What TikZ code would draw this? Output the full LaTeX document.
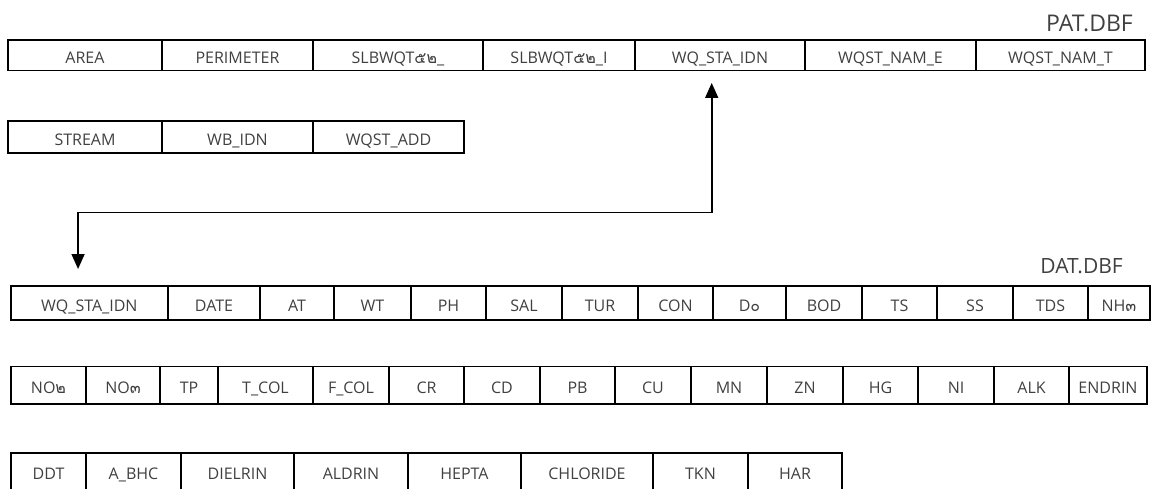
\documentclass[tikz,border=0pt]{standalone}
\usepackage{fontspec}
\setmainfont{Open Sans}
\newfontfamily\thaifont[Script=Thai]{Loma}
\usetikzlibrary{positioning,arrows.meta}
\tikzset{
    field/.style = {draw, line width=1.6pt, rectangle, outer sep=0pt, inner sep=0pt, minimum width=#1, text=black!75, font=\fontsize{16}{18}\selectfont, text height=16.5pt, text depth=0pt},
    table-title/.style = {inner sep=0pt, text=black!75, font=\fontsize{#1}{#1}\selectfont},
    key-link/.style = {line width=1.6pt, {Triangle[width=13pt,length=15pt]}-{Triangle[width=13pt,length=15pt]}},
}

\begin{document}
\begin{tikzpicture}[x=1pt, y=-1pt]
\useasboundingbox (0,0) rectangle (1153,488);

% PAT.DBF
\begin{scope}[nodes={minimum height=30.7pt}]
\node[field=154pt, anchor=west] (pat1) at (8,55.3) {AREA};
\node[field=151pt, right=0pt of pat1] (pat2) {PERIMETER};
\node[field=170pt, right=0pt of pat2] (pat3) {SLBWQT{\thaifont ๕๒}\_};
\node[field=152pt, right=0pt of pat3] (pat4) {SLBWQT{\thaifont ๕๒}\_I};
\node[field=170pt, right=0pt of pat4] (pat5) {WQ\_STA\_IDN};
\node[field=171pt, right=0pt of pat5] (pat6) {WQST\_NAM\_E};
\node[field=169pt, right=0pt of pat6] (pat7) {WQST\_NAM\_T};
\end{scope}
\begin{scope}[nodes={minimum height=32pt}]
\node[field=154pt, anchor=west] (pat8) at (8,137) {STREAM};
\node[field=151pt, right=0pt of pat8] (pat9) {WB\_IDN};
\node[field=151pt, right=0pt of pat9] (pat10) {WQST\_ADD};
\end{scope}
\node[table-title=23, anchor=base east] (pattitle) at ([xshift=-12pt,yshift=8pt]pat7.north east) {PAT.DBF};

% DAT.DBF
\begin{scope}[nodes={minimum height=34pt}]
\node[field=157.3pt, anchor=west] (dat1) at (10.7,303) {WQ\_STA\_IDN};
\node[field=92pt, right=0pt of dat1] (dat2) {DATE};
\node[field=74pt, right=0pt of dat2] (dat3) {AT};
\node[field=77pt, right=0pt of dat3] (dat4) {WT};
\node[field=75pt, right=0pt of dat4] (dat5) {PH};
\node[field=76pt, right=0pt of dat5] (dat6) {SAL};
\node[field=76pt, right=0pt of dat6] (dat7) {TUR};
\node[field=75pt, right=0pt of dat7] (dat8) {CON};
\node[field=73pt, right=0pt of dat8] (dat9) {D{\thaifont ๐}};
\node[field=76pt, right=0pt of dat9] (dat10) {BOD};
\node[field=75pt, right=0pt of dat10] (dat11) {TS};
\node[field=76pt, right=0pt of dat11] (dat12) {SS};
\node[field=75pt, right=0pt of dat12] (dat13) {TDS};
\node[field=62pt, right=0pt of dat13] (dat14) {NH{\thaifont ๓}};
\end{scope}
\begin{scope}[nodes={minimum height=37.3pt}]
\node[field=75pt, anchor=west] (dat15) at (11,385.3) {NO{\thaifont ๒}};
\node[field=74pt, right=0pt of dat15] (dat16) {NO{\thaifont ๓}};
\node[field=58pt, right=0pt of dat16] (dat17) {TP};
\node[field=95pt, right=0pt of dat17] (dat18) {T\_COL};
\node[field=76pt, right=0pt of dat18] (dat19) {F\_COL};
\node[field=75pt, right=0pt of dat19] (dat20) {CR};
\node[field=76pt, right=0pt of dat20] (dat21) {CD};
\node[field=75pt, right=0pt of dat21] (dat22) {PB};
\node[field=76pt, right=0pt of dat22] (dat23) {CU};
\node[field=76pt, right=0pt of dat23] (dat24) {MN};
\node[field=76pt, right=0pt of dat24] (dat25) {ZN};
\node[field=75pt, right=0pt of dat25] (dat26) {HG};
\node[field=76pt, right=0pt of dat26] (dat27) {NI};
\node[field=75pt, right=0pt of dat27] (dat28) {ALK};
\node[field=78pt, right=0pt of dat28] (dat29) {ENDRIN};
\end{scope}
\begin{scope}[nodes={minimum height=37.3pt}]
\node[field=75pt, anchor=west] (dat30) at (11,471.6) {DDT};
\node[field=95pt, right=0pt of dat30] (dat31) {A\_BHC};
\node[field=113pt, right=0pt of dat31] (dat32) {DIELRIN};
\node[field=114pt, right=0pt of dat32] (dat33) {ALDRIN};
\node[field=113pt, right=0pt of dat33] (dat34) {HEPTA};
\node[field=132pt, right=0pt of dat34] (dat35) {CHLORIDE};
\node[field=95pt, right=0pt of dat35] (dat36) {TKN};
\node[field=94pt, right=0pt of dat36] (dat37) {HAR};
\end{scope}
\node[table-title=21, anchor=base east] (dattitle) at ([xshift=-27pt,yshift=13pt]dat14.north east) {DAT.DBF};

% key link
\coordinate (elbow) at ([xshift=-11.3pt,yshift=73.7pt]dat1.north);
\draw[key-link, shorten <=12.3pt, shorten >=17pt] ([xshift=-8.3pt]pat5.south) |- (elbow) -- (elbow |- dat1.north);
\end{tikzpicture}
\end{document}
